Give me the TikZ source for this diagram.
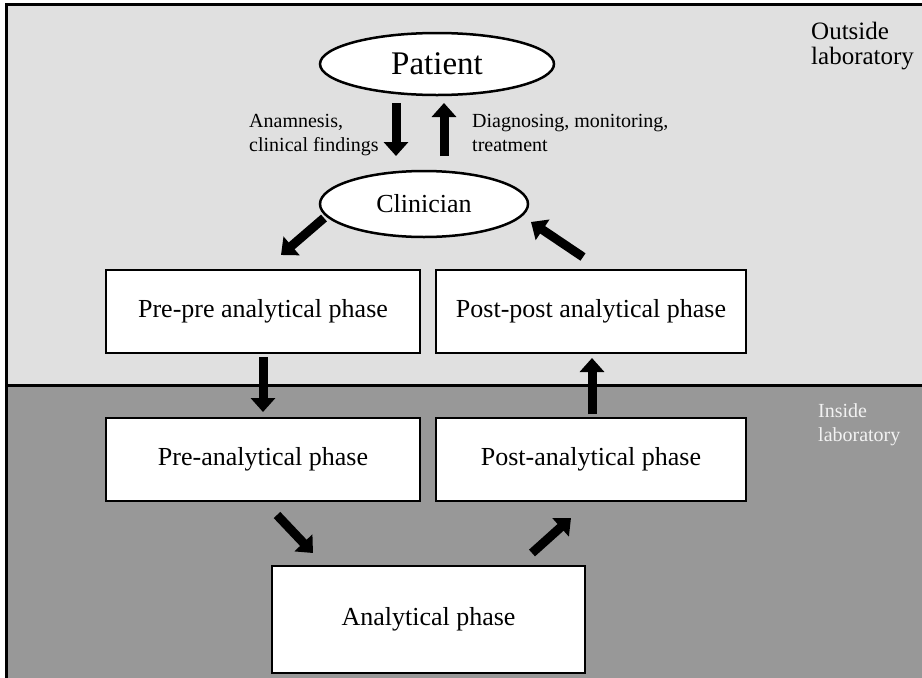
\documentclass[tikz,border=0pt]{standalone}
\usepackage{fontspec}
\setmainfont{Liberation Serif}
\usetikzlibrary{shapes.geometric,arrows.meta,calc}
\definecolor{outsidebg}{RGB}{224,224,224}
\definecolor{insidebg}{RGB}{152,152,152}
\definecolor{insidetext}{RGB}{242,242,242}
\begin{document}
\begin{tikzpicture}[x=1pt,y=-1pt,
  phase/.style={draw=black,line width=2.5pt,fill=white,rectangle,minimum height=83pt,
    inner sep=0pt,font=\fontsize{26}{30}\selectfont},
  actor/.style={draw=black,line width=2.5pt,fill=white,ellipse,inner sep=0pt,
    font=\fontsize{26}{30}\selectfont},
  note/.style={inner sep=0pt,align=left,font=\fontsize{20}{24}\selectfont},
  flow/.style={line width=9pt,-{Triangle[length=14pt,width=24pt]}},
  frame/.style={line width=3pt}]
\useasboundingbox (0,0) rectangle (922,678);

% two zones: outside and inside the laboratory
\fill[outsidebg] (6,4) rectangle (922,385);
\fill[insidebg] (6,385) rectangle (922,678);
\draw[frame] (922,4) -- (6,4) -- (6,678);
\draw[frame] (6,385) -- (922,385);

% zone labels
\node[note,anchor=north west,font=\fontsize{25}{25}\selectfont] (outlab) at (811,22) {Outside\\laboratory};
\node[note,anchor=north west,text=insidetext] (inlab) at (818,403) {Inside\\laboratory};

% actors
\node[actor,minimum width=234pt,minimum height=62pt,font=\fontsize{33}{36}\selectfont] (patient) at (437,64) {Patient};
\node[actor,minimum width=208pt,minimum height=66pt] (clinician) at (424,204) {Clinician};

% phases of the total testing process
\node[phase,minimum width=314pt] (prepre) at (263,311.5) {Pre-pre analytical phase};
\node[phase,minimum width=310pt] (postpost) at (591,311.5) {Post-post analytical phase};
\node[phase,minimum width=314pt] (pre) at (263,459.5) {Pre-analytical phase};
\node[phase,minimum width=310pt] (post) at (591,459.5) {Post-analytical phase};
\node[phase,minimum width=313pt,minimum height=107pt] (analytical) at (428.5,619.5) {Analytical phase};

% patient <-> clinician
\draw[flow] ($(patient.center)+(-41,39)$) -- ($(clinician.center)+(-28,-48)$);
\draw[flow] ($(clinician.center)+(20,-48)$) -- ($(patient.center)+(7,39)$);
\node[note,anchor=north west] (history) at (249,114.5) {Anamnesis,\\clinical findings};
\node[note,anchor=north west] (care) at (472,114.5) {Diagnosing, monitoring,\\treatment};

% the loop through the phases
\draw[flow] ($(clinician.center)+(-100,14)$) -- ($(prepre.center)+(18,-56.5)$);
\draw[flow] ($(prepre.center)+(0,45.5)$) -- ($(pre.center)+(0,-47.5)$);
\draw[flow] ($(pre.center)+(14,55.5)$) -- ($(analytical.center)+(-115.5,-66.5)$);
\draw[flow] ($(analytical.center)+(103.5,-66.5)$) -- ($(post.center)+(-20,58.5)$);
\draw[flow] ($(post.center)+(1,-45.5)$) -- ($(postpost.center)+(1,46.5)$);
\draw[flow] ($(postpost.center)+(-8,-54.5)$) -- ($(clinician.center)+(107,18)$);
\end{tikzpicture}
\end{document}
